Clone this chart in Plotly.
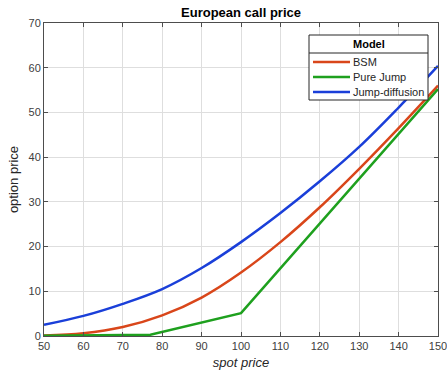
import plotly.graph_objects as go

# Spot prices at which the option prices are shown
spot = [50, 60, 70, 80, 90, 100, 110, 120, 130, 140, 150]

# Black-Scholes-Merton price
bsm = [0.1, 0.6, 2.0, 4.6, 8.6, 14.2, 21.0, 28.8, 37.4, 46.5, 56.0]

# Jump-diffusion price
jump_diffusion = [2.5, 4.5, 7.2, 10.5, 15.2, 21.0, 27.5, 34.6, 42.3, 51.1, 60.4]

# Pure jump price (piecewise linear)
spot_pj = [50, 60, 70, 77, 100, 110, 120, 130, 140, 150]
pure_jump = [0.05, 0.1, 0.15, 0.3, 5.1, 15.1, 25.1, 35.1, 45.1, 55.2]

series_names = ["BSM", "Pure Jump", "Jump-diffusion"]
series_colors = ["#D9461A", "#1EA01E", "#1A3FD9"]

x_ticks = list(range(50, 151, 10))
y_ticks = list(range(0, 71, 10))

W, H = 447, 380
ML, MR, MT, MB = 44, 9, 23, 44
PW, PH = W - ML - MR, H - MT - MB
FONT = "Liberation Sans, Arial, Helvetica, sans-serif"


def px_x(px):
    """Horizontal pixel position -> paper coordinate."""
    return (px - ML) / PW


def px_y(py):
    """Vertical pixel position (from top) -> paper coordinate."""
    return (H - MB - py) / PH


fig = go.Figure()
fig.add_trace(go.Scatter(x=spot, y=bsm, mode="lines", name=series_names[0],
                         line=dict(color=series_colors[0], width=2.5, shape="spline")))
fig.add_trace(go.Scatter(x=spot_pj, y=pure_jump, mode="lines", name=series_names[1],
                         line=dict(color=series_colors[1], width=2.5)))
fig.add_trace(go.Scatter(x=spot, y=jump_diffusion, mode="lines", name=series_names[2],
                         line=dict(color=series_colors[2], width=2.5, shape="spline")))

axis_common = dict(
    showgrid=True, gridcolor="#DEDEDE", gridwidth=1,
    showline=True, linecolor="#4D4D4D", linewidth=1, mirror="ticks",
    ticks="inside", ticklen=4, tickcolor="#4D4D4D",
    tickfont=dict(family=FONT, size=11, color="#404040"),
    zeroline=False, automargin=False, ticklabeloverflow="allow",
)

# Legend box with a titled header, drawn compactly in the upper right corner
box_l, box_r, box_t, box_b, sep_y = 309, 428, 35, 100, 53
shapes = [
    dict(type="rect", xref="paper", yref="paper",
         x0=px_x(box_l), x1=px_x(box_r), y0=px_y(box_b), y1=px_y(box_t),
         line=dict(color="#262626", width=1), fillcolor="white", layer="above"),
    dict(type="line", xref="paper", yref="paper",
         x0=px_x(box_l), x1=px_x(box_r), y0=px_y(sep_y), y1=px_y(sep_y),
         line=dict(color="#262626", width=1), layer="above"),
]
annotations = [
    dict(text="<b>Model</b>", xref="paper", yref="paper",
         x=px_x((box_l + box_r) / 2), y=px_y(44), xanchor="center", yanchor="middle",
         showarrow=False, font=dict(family=FONT, size=11, color="black")),
]
for i, (name, color) in enumerate(zip(series_names, series_colors)):
    yy = 62 + 15 * i
    shapes.append(dict(type="line", xref="paper", yref="paper",
                       x0=px_x(313), x1=px_x(350), y0=px_y(yy), y1=px_y(yy),
                       line=dict(color=color, width=2.5), layer="above"))
    annotations.append(dict(text=name, xref="paper", yref="paper",
                            x=px_x(351), y=px_y(yy), xanchor="left", yanchor="middle",
                            showarrow=False,
                            font=dict(family=FONT, size=11, color="#262626")))

fig.update_layout(
    width=W, height=H,
    margin=dict(l=ML, r=MR, t=MT, b=MB),
    paper_bgcolor="white", plot_bgcolor="white",
    showlegend=False,
    title=dict(text="<b>European call price</b>", x=0.5, xanchor="center",
               xref="paper", y=1 - 12 / H, yanchor="middle",
               font=dict(family=FONT, size=13, color="black")),
    xaxis=dict(range=[50, 150], tickvals=x_ticks,
               title=dict(text="<i>spot price</i>", standoff=6,
                          font=dict(family=FONT, size=13, color="#262626")),
               **axis_common),
    yaxis=dict(range=[0, 70], tickvals=y_ticks,
               title=dict(text="option price", standoff=6,
                          font=dict(family=FONT, size=13, color="#262626")),
               **axis_common),
    shapes=shapes,
    annotations=annotations,
)

fig.write_html("out.html")
